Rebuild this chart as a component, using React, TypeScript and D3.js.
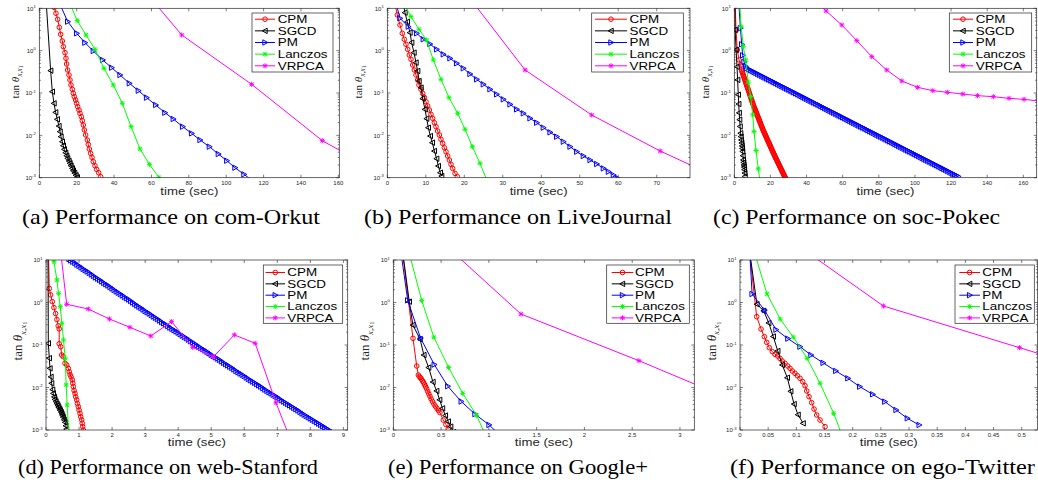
import React from 'react';
import * as d3 from 'd3';

// Every point: [time (sec), log10(tan θ)]
type Pt = [number, number];

const seriesNames = ['CPM', 'SGCD', 'PM', 'Lanczos', 'VRPCA'];
const yTickExps = [-3, -2, -1, 0, 1];

const ticksOrkut = [0, 20, 40, 60, 80, 100, 120, 140, 160];
const ticksLiveJournal = [0, 10, 20, 30, 40, 50, 60, 70];
const ticksPokec = [0, 20, 40, 60, 80, 100, 120, 140, 160];
const ticksStanford = [0, 1, 2, 3, 4, 5, 6, 7, 8, 9];
const ticksGoogle = [0, 0.5, 1, 1.5, 2, 2.5, 3];
const ticksTwitter = [0, 0.05, 0.1, 0.15, 0.2, 0.25, 0.3, 0.35, 0.4, 0.45, 0.5];

// (a) com-Orkut
const orkutCPM: Pt[] = [[8.0,1.02],[8.92,0.882],[9.81,0.74],[10.7,0.551],[11.42,0.386],[12.31,0.228],[12.84,0.094],[13.74,-0.047],[14.27,-0.181],[14.63,-0.315],[15.16,-0.457],[15.88,-0.575],[16.41,-0.693],[16.95,-0.811],[17.66,-0.913],[18.19,-1.008],[18.73,-1.087],[19.44,-1.165],[19.98,-1.244],[20.51,-1.323],[21.23,-1.402],[21.76,-1.48],[22.48,-1.559],[23.01,-1.654],[23.55,-1.756],[24.08,-1.874],[24.8,-1.992],[25.69,-2.11],[26.22,-2.213],[26.76,-2.323],[27.47,-2.425],[28.18,-2.52],[28.9,-2.622],[29.79,-2.717],[30.68,-2.803],[31.75,-2.882],[32.82,-2.976]];
const orkutSGCD: Pt[] = [[3.5,1.27],[6.07,-0.472],[6.96,-0.969],[7.85,-1.244],[8.74,-1.457],[9.63,-1.622],[10.5,-1.78],[11.1,-1.913],[11.59,-2.031],[12.31,-2.15],[12.84,-2.244],[13.38,-2.331],[14.09,-2.409],[14.63,-2.48],[15.16,-2.543],[15.88,-2.606],[16.41,-2.661],[16.95,-2.717],[17.66,-2.78],[18.19,-2.835],[18.91,-2.89],[19.62,-2.945],[20.34,-2.992]];
const orkutPM: Pt[] = [[10.4,1.16],[15.2,0.685],[20.0,0.409],[24.4,0.189],[28.9,-0.008],[33.9,-0.22],[38.7,-0.402],[43.2,-0.575],[48.2,-0.772],[53.0,-0.945],[57.4,-1.11],[62.3,-1.283],[67.2,-1.465],[71.7,-1.614],[76.7,-1.795],[81.5,-1.953],[86.0,-2.11],[91.0,-2.268],[95.8,-2.441],[100.3,-2.598],[104.7,-2.764],[109.5,-2.921],[114.3,-3.08]];
const orkutLanczos: Pt[] = [[15.5,1.2],[20.3,0.709],[25.0,0.37],[29.8,0.031],[34.6,-0.417],[39.6,-0.811],[44.4,-1.244],[49.1,-1.795],[53.9,-2.323],[58.9,-2.685],[64.0,-2.992]];
const orkutVRPCA: Pt[] = [[38.6,2.34],[76.2,0.37],[113.6,-0.795],[151.4,-2.126],[189,-3.05]];

// (b) LiveJournal
const ljCPM: Pt[] = [[2.0,1.1],[2.6,0.843],[3.29,0.606],[3.9,0.409],[4.42,0.268],[4.85,0.15],[5.29,0.031],[5.72,-0.102],[6.15,-0.205],[6.59,-0.339],[7.02,-0.457],[7.45,-0.575],[7.89,-0.693],[8.23,-0.811],[8.75,-0.913],[9.19,-1.008],[9.62,-1.102],[10.05,-1.205],[10.49,-1.307],[10.92,-1.402],[11.35,-1.504],[11.79,-1.598],[12.22,-1.701],[12.65,-1.795],[13.08,-1.898],[13.52,-1.992],[13.95,-2.094],[14.38,-2.189],[14.82,-2.291],[15.25,-2.386],[15.68,-2.488],[16.12,-2.583],[16.55,-2.685],[16.98,-2.78],[17.59,-2.898],[18.2,-2.976]];
const ljSGCD: Pt[] = [[3.8,1.3],[4.59,0.898],[5.2,0.68],[5.89,0.425],[6.33,0.189],[6.93,-0.047],[7.45,-0.283],[7.89,-0.48],[8.23,-0.717],[8.75,-0.874],[9.19,-1.134],[9.79,-1.386],[10.23,-1.606],[10.66,-1.819],[11.18,-2.016],[11.7,-2.173],[12.22,-2.37],[12.82,-2.551],[13.26,-2.724],[13.78,-2.882],[14.12,-2.961]];
const ljPM: Pt[] = [[1.5,1.4],[3.29,0.764],[5.46,0.567],[7.63,0.409],[9.36,0.268],[11.09,0.157],[12.82,0.031],[14.56,-0.087],[16.29,-0.181],[18.02,-0.299],[19.76,-0.417],[21.49,-0.551],[23.22,-0.677],[24.96,-0.795],[26.69,-0.913],[28.42,-1.031],[30.16,-1.15],[31.89,-1.268],[33.62,-1.386],[35.36,-1.48],[37.09,-1.598],[38.82,-1.701],[40.55,-1.819],[42.29,-1.929],[44.02,-2.031],[45.75,-2.15],[47.49,-2.268],[49.22,-2.386],[50.95,-2.488],[52.69,-2.583],[54.42,-2.677],[56.15,-2.78],[57.45,-2.858],[58.75,-2.937],[60.0,-3.02]];
const ljLanczos: Pt[] = [[4.1,1.15],[6.15,0.803],[8.23,0.504],[10.2,0.252],[11.96,-0.22],[13.95,-0.677],[16.03,-1.11],[18.28,-1.48],[20.19,-1.858],[22.1,-2.268],[24.09,-2.661],[26.0,-3.09]];
const ljVRPCA: Pt[] = [[18.2,1.62],[35.8,-0.457],[53.1,-1.52],[70.9,-2.37],[88.5,-3.11]];

// (c) soc-Pokec
const pokecCPM: Pt[] = [[0.4,1.3],[0.94,0.488],[1.66,0.017],[2.6,-0.219],[3.55,-0.337],
  [4.0,-0.455],[4.25,-0.487],[4.5,-0.518],[4.75,-0.55],[5.0,-0.581],[5.25,-0.613],[5.5,-0.644],[5.75,-0.676],[6.0,-0.708],[6.25,-0.739],[6.5,-0.771],[6.75,-0.803],[7.0,-0.835],[7.25,-0.867],[7.5,-0.899],[7.75,-0.93],[8.0,-0.962],[8.25,-0.994],[8.5,-1.026],[8.75,-1.058],[9.0,-1.09],[9.25,-1.122],[9.5,-1.154],[9.75,-1.185],[10.0,-1.217],[10.25,-1.249],[10.5,-1.281],[10.75,-1.308],[11.0,-1.336],[11.25,-1.363],[11.5,-1.39],[11.75,-1.417],[12.0,-1.445],[12.25,-1.472],[12.5,-1.499],[12.75,-1.527],[13.0,-1.554],[13.25,-1.581],[13.5,-1.608],[13.75,-1.636],[14.0,-1.663],[14.25,-1.69],[14.5,-1.717],[14.75,-1.745],[15.0,-1.772],[15.25,-1.799],[15.5,-1.826],[15.75,-1.854],[16.0,-1.88],[16.25,-1.903],[16.5,-1.927],[16.75,-1.951],[17.0,-1.975],[17.25,-1.999],[17.5,-2.022],[17.75,-2.046],[18.0,-2.07],[18.25,-2.094],[18.5,-2.118],[18.75,-2.141],[19.0,-2.165],[19.25,-2.189],[19.5,-2.213],[19.75,-2.237],[20.0,-2.26],[20.25,-2.284],[20.5,-2.308],[20.75,-2.332],[21.0,-2.355],[21.25,-2.379],[21.5,-2.403],[21.75,-2.427],[22.0,-2.45],[22.25,-2.473],[22.5,-2.495],[22.75,-2.518],[23.0,-2.54],[23.25,-2.562],[23.5,-2.584],[23.75,-2.606],[24.0,-2.628],[24.25,-2.65],[24.5,-2.672],[24.75,-2.695],[25.0,-2.717],[25.25,-2.739],[25.5,-2.761],[25.75,-2.783],[26.0,-2.805],[26.25,-2.827],[26.5,-2.85],[26.75,-2.872],[27.0,-2.894],[27.25,-2.916],[27.5,-2.938],[27.75,-2.96],[28.0,-2.982],[28.25,-3.004],[28.5,-3.027]];
const pokecSGCD: Pt[] = [[0.2,1.3],[0.45,0.49],[1.0,0.02],[1.5,-0.38],[1.85,-0.69],[2.2,-1.04],[2.45,-1.26],[2.7,-1.47],[2.95,-1.63],[3.2,-1.79],[3.5,-1.95],[3.7,-2.03],[3.9,-2.11],[4.1,-2.18],[4.3,-2.25],[4.45,-2.31],[4.6,-2.38],[4.8,-2.48],[5.0,-2.58],[5.15,-2.64],[5.3,-2.7],[5.45,-2.75],[5.6,-2.81],[5.8,-2.89],[5.95,-2.97]];
const pokecPM: Pt[] = [[2.2,1.3],[3.4,0.53],[4.1,0.15],[4.65,-0.11],[5.4,-0.27],[6.3,-0.37],
  [7,-0.419],[8,-0.441],[9,-0.463],[10,-0.485],[11,-0.507],[12,-0.528],[13,-0.55],[14,-0.572],[15,-0.594],[16,-0.616],[17,-0.637],[18,-0.659],[19,-0.681],[20,-0.703],[21,-0.725],[22,-0.746],[23,-0.768],[24,-0.79],[25,-0.812],[26,-0.834],[27,-0.855],[28,-0.877],[29,-0.899],[30,-0.921],[31,-0.943],[32,-0.964],[33,-0.986],[34,-1.008],[35,-1.03],[36,-1.052],[37,-1.073],[38,-1.095],[39,-1.117],[40,-1.139],[41,-1.161],[42,-1.182],[43,-1.204],[44,-1.226],[45,-1.248],[46,-1.27],[47,-1.291],[48,-1.313],[49,-1.335],[50,-1.357],[51,-1.379],[52,-1.4],[53,-1.422],[54,-1.444],[55,-1.466],[56,-1.488],[57,-1.509],[58,-1.531],[59,-1.553],[60,-1.575],[61,-1.597],[62,-1.618],[63,-1.64],[64,-1.662],[65,-1.684],[66,-1.706],[67,-1.727],[68,-1.749],[69,-1.771],[70,-1.793],[71,-1.815],[72,-1.836],[73,-1.858],[74,-1.88],[75,-1.902],[76,-1.924],[77,-1.945],[78,-1.967],[79,-1.989],[80,-2.011],[81,-2.033],[82,-2.054],[83,-2.076],[84,-2.098],[85,-2.12],[86,-2.142],[87,-2.163],[88,-2.185],[89,-2.207],[90,-2.229],[91,-2.251],[92,-2.272],[93,-2.294],[94,-2.316],[95,-2.338],[96,-2.36],[97,-2.381],[98,-2.403],[99,-2.425],[100,-2.447],[101,-2.469],[102,-2.49],[103,-2.512],[104,-2.534],[105,-2.556],[106,-2.578],[107,-2.599],[108,-2.621],[109,-2.643],[110,-2.665],[111,-2.687],[112,-2.708],[113,-2.73],[114,-2.752],[115,-2.774],[116,-2.796],[117,-2.817],[118,-2.839],[119,-2.861],[120,-2.883],[121,-2.905],[122,-2.926],[123,-2.948],[124,-2.97]];
const pokecLanczos: Pt[] = [[2.3,1.56],[3.8,0.566],[4.98,0.094],[6.31,-0.219],[7.75,-0.745],[9.08,-1.085],[10.19,-1.517],[10.91,-1.91],[12.02,-2.358],[13.29,-2.79],[14.6,-3.2]];
const pokecVRPCA: Pt[] = [[42.3,1.3],[50.8,0.937],[59.5,0.606],[67.8,0.236],[76.1,-0.142],[84.4,-0.457],[92.7,-0.717],[101.5,-0.866],[109.9,-0.945],[117.9,-0.984],[126.5,-1.024],[134.6,-1.063],[143.4,-1.087],[152.1,-1.126],[160.4,-1.15],[168.8,-1.19]];

// (d) web-Stanford
const stanfordCPM: Pt[] = [[0.07,1.3],[0.1,0.33],[0.14,0.18],[0.19,0.02],[0.24,-0.12],[0.29,-0.26],[0.33,-0.4],[0.37,-0.55],[0.4,-0.62],[0.4,-0.97],[0.445,-1.04],[0.475,-1.235],[0.52,-1.275],[0.575,-1.43],[0.627,-1.47],[0.675,-1.55],[0.705,-1.63],[0.73,-1.7],[0.757,-1.75],[0.796,-1.82],[0.81,-1.9],[0.827,-1.98],[0.85,-2.07],[0.878,-2.14],[0.9,-2.22],[0.929,-2.29],[0.95,-2.38],[0.978,-2.45],[1.0,-2.53],[1.03,-2.61],[1.05,-2.69],[1.08,-2.76],[1.095,-2.84],[1.11,-2.92],[1.13,-3.0]];
const stanfordSGCD: Pt[] = [[0.06,1.4],[0.07,-0.96],[0.1,-1.31],[0.12,-1.55],[0.15,-1.75],[0.17,-1.9],[0.2,-2.05],[0.22,-2.14],[0.25,-2.22],[0.27,-2.28],[0.3,-2.33],[0.33,-2.38],[0.36,-2.42],[0.38,-2.46],[0.41,-2.5],[0.43,-2.54],[0.46,-2.58],[0.48,-2.62],[0.5,-2.66],[0.52,-2.7],[0.55,-2.76],[0.58,-2.82],[0.6,-2.9],[0.62,-2.98]];
const stanfordPM: Pt[] = [[0.7,1.02],[0.75,0.99],[0.8125,0.96],[0.875,0.93],[0.9375,0.89],[1.0,0.86],[1.0625,0.825],[1.125,0.79],[1.1875,0.76],[1.25,0.73],[1.3125,0.695],[1.375,0.66],[1.4375,0.625],[1.5,0.59],[1.5625,0.56],[1.625,0.53],[1.6875,0.495],[1.75,0.46],[1.8125,0.43],[1.875,0.4],[1.9375,0.365],[2.0,0.33],[2.0625,0.295],[2.125,0.26],[2.1875,0.23],[2.25,0.2],[2.3125,0.165],[2.375,0.13],[2.4375,0.1],[2.5,0.07],[2.5625,0.035],[2.625,0.0],[2.6875,-0.035],[2.75,-0.07],[2.8125,-0.1],[2.875,-0.13],[2.9375,-0.165],[3.0,-0.2],[3.0625,-0.23],[3.125,-0.26],[3.1875,-0.295],[3.25,-0.33],[3.3125,-0.36],[3.375,-0.39],[3.4375,-0.425],[3.5,-0.46],[3.5625,-0.49],[3.625,-0.52],[3.6875,-0.555],[3.75,-0.59],[3.8125,-0.62],[3.875,-0.65],[3.9375,-0.68],[4.0,-0.71],[4.0625,-0.745],[4.125,-0.78],[4.1875,-0.81],[4.25,-0.84],[4.3125,-0.875],[4.375,-0.91],[4.4375,-0.94],[4.5,-0.97],[4.5625,-1.005],[4.625,-1.04],[4.6875,-1.07],[4.75,-1.1],[4.8125,-1.13],[4.875,-1.16],[4.9375,-1.195],[5.0,-1.23],[5.0625,-1.26],[5.125,-1.29],[5.1875,-1.32],[5.25,-1.35],[5.3125,-1.385],[5.375,-1.42],[5.4375,-1.45],[5.5,-1.48],[5.5625,-1.51],[5.625,-1.54],[5.6875,-1.575],[5.75,-1.61],[5.8125,-1.64],[5.875,-1.67],[5.9375,-1.7],[6.0,-1.73],[6.0625,-1.765],[6.125,-1.8],[6.1875,-1.83],[6.25,-1.86],[6.3125,-1.89],[6.375,-1.92],[6.4375,-1.95],[6.5,-1.98],[6.5625,-2.015],[6.625,-2.05],[6.6875,-2.08],[6.75,-2.11],[6.8125,-2.14],[6.875,-2.17],[6.9375,-2.2],[7.0,-2.23],[7.0625,-2.265],[7.125,-2.3],[7.1875,-2.33],[7.25,-2.36],[7.3125,-2.39],[7.375,-2.42],[7.4375,-2.45],[7.5,-2.48],[7.5625,-2.51],[7.625,-2.54],[7.6875,-2.575],[7.75,-2.61],[7.8125,-2.64],[7.875,-2.67],[7.9375,-2.7],[8.0,-2.73],[8.0625,-2.76],[8.125,-2.79],[8.1875,-2.82],[8.25,-2.85],[8.3125,-2.88],[8.375,-2.91],[8.4375,-2.94],[8.5,-2.97],[8.5625,-3.0],[8.625,-3.03]];
const stanfordLanczos: Pt[] = [[0.18,1.5],[0.24,0.96],[0.33,0.53],[0.38,0.216],[0.43,-0.098],[0.48,-0.49],[0.53,-0.882],[0.58,-1.313],[0.61,-1.94],[0.64,-2.41],[0.69,-3.1]];
const stanfordVRPCA: Pt[] = [[0.4,1.5],[0.626,-0.042],[1.28,-0.153],[1.92,-0.388],[2.54,-0.584],[3.17,-0.788],[3.8,-0.451],[4.44,-1.055],[5.07,-1.274],[5.7,-0.762],[6.33,-0.96],[6.96,-2.36],[7.59,-3.6]];

// (e) Google+
const googleCPM: Pt[] = [[0.09,1.3],[0.206,-0.843],[0.245,-1.494],[0.262,-1.706],[0.272,-1.74],[0.283,-1.77],[0.294,-1.8],[0.305,-1.84],[0.316,-1.88],[0.327,-1.93],[0.338,-1.98],[0.349,-2.03],[0.36,-2.09],[0.372,-2.15],[0.384,-2.21],[0.396,-2.27],[0.41,-2.33],[0.425,-2.39],[0.44,-2.44],[0.457,-2.49],[0.472,-2.54],[0.488,-2.59],[0.523,-2.765],[0.55,-2.87],[0.575,-2.976]];
const googleSGCD: Pt[] = [[0.08,1.5],[0.167,0.02],[0.205,-0.53],[0.28,-0.86],[0.32,-1.235],[0.37,-1.53],[0.415,-1.87],[0.454,-2.08],[0.485,-2.29],[0.515,-2.49],[0.545,-2.66],[0.575,-2.8],[0.6,-2.92],[0.63,-3.05]];
const googlePM: Pt[] = [[0.06,1.5],[0.151,0.05],[0.285,-0.835],[0.429,-1.46],[0.57,-1.97],[0.711,-2.33],[0.855,-2.625],[1.002,-2.88],[1.13,-3.15]];
const googleLanczos: Pt[] = [[0.15,1.3],[0.297,0.05],[0.424,-0.816],[0.579,-1.53],[0.726,-2.137],[0.872,-2.657],[0.98,-3.2]];
const googleVRPCA: Pt[] = [[0.1,2.26],[1.336,-0.271],[2.57,-1.369],[3.81,-2.54]];

// (f) ego-Twitter
const twitterCPM: Pt[] = [[0.016,1.3],[0.0296,-0.333],[0.0373,-0.624],[0.0432,-0.804],[0.0474,-0.937],[0.052,-1.063],[0.0574,-1.157],[0.0621,-1.22],[0.0669,-1.259],[0.071,-1.314],[0.075,-1.377],[0.0799,-1.431],[0.0847,-1.494],[0.0888,-1.549],[0.0929,-1.612],[0.0976,-1.667],[0.1018,-1.722],[0.1065,-1.784],[0.1113,-1.863],[0.1154,-1.957],[0.1184,-2.082],[0.1225,-2.216],[0.1272,-2.357],[0.1314,-2.506],[0.1361,-2.647],[0.142,-2.765],[0.151,-2.922]];
const twitterSGCD: Pt[] = [[0.015,1.4],[0.03,-0.04],[0.042,-0.196],[0.051,-0.48],[0.059,-0.8],[0.067,-1.14],[0.075,-1.47],[0.084,-1.77],[0.09,-2.09],[0.096,-2.39],[0.103,-2.64],[0.112,-2.843]];
const twitterPM: Pt[] = [[0.0165,1.35],[0.0215,0.2],[0.0435,-0.18],[0.0639,-0.64],[0.085,-0.85],[0.1065,-1.04],[0.126,-1.235],[0.1475,-1.42],[0.17,-1.61],[0.1915,-1.784],[0.2125,-1.98],[0.2355,-2.16],[0.257,-2.333],[0.277,-2.529],[0.297,-2.725],[0.318,-2.882]];
const twitterLanczos: Pt[] = [[0.024,1.25],[0.048,0.2],[0.0715,-0.392],[0.0947,-0.816],[0.119,-1.314],[0.142,-1.9],[0.1663,-2.609],[0.186,-3.3]];
const twitterVRPCA: Pt[] = [[0.013,2.18],[0.2545,-0.082],[0.496,-1.063],[0.737,-2.04]];

const styles = [
  { color: '#ff0000', marker: 'o' },
  { color: '#000000', marker: '<' },
  { color: '#0000ff', marker: '>' },
  { color: '#00ff00', marker: '*' },
  { color: '#ff00ff', marker: '*' },
];

const TOP = { top: 8.3, bottom: 177.7, tickY: 184.5, labY: 194.8, legY0: 13, legY1: 72, row0: 19.2, rowDy: 11.65, capY: 224, ylabY: 82, ylabFs: 11 };
const BOT = { top: 260, bottom: 430, tickY: 436.8, labY: 445.8, legY0: 265, legY1: 323.3, row0: 272.5, rowDy: 11.35, capY: 474, ylabY: 341, ylabFs: 13 };

const panels = [
  { id: 'a', row: TOP, caption: '(a) Performance on com-Orkut', capX: 22, capW: 298, left: 39.3, right: 339.3, xMax: 160.5, ticks: ticksOrkut, ylabX: 18.5,
    data: [orkutCPM, orkutSGCD, orkutPM, orkutLanczos, orkutVRPCA], leg: { x0: 252, x1: 333, l0: 255, l1: 275, tx: 277.7 } },
  { id: 'b', row: TOP, caption: '(b) Performance on LiveJournal', capX: 364, capW: 308, left: 387.3, right: 690, xMax: 78.64, ticks: ticksLiveJournal, ylabX: 361.5,
    data: [ljCPM, ljSGCD, ljPM, ljLanczos, ljVRPCA], leg: { x0: 591.7, x1: 683.3, l0: 595, l1: 627, tx: 629.5 } },
  { id: 'c', row: TOP, caption: '(c) Performance on soc-Pokec', capX: 713, capW: 287, left: 734.3, right: 1036.7, xMax: 167.4, ticks: ticksPokec, ylabX: 708.5,
    data: [pokecCPM, pokecSGCD, pokecPM, pokecLanczos, pokecVRPCA], leg: { x0: 949.3, x1: 1031.7, l0: 953, l1: 973, tx: 975.7 } },
  { id: 'd', row: BOT, caption: '(d) Performance on web-Stanford', capX: 18, capW: 300, left: 46, right: 347.7, xMax: 9.13, ticks: ticksStanford, ylabX: 22,
    data: [stanfordCPM, stanfordSGCD, stanfordPM, stanfordLanczos, stanfordVRPCA], leg: { x0: 263.3, x1: 342.7, l0: 265.5, l1: 285, tx: 287.3 } },
  { id: 'e', row: BOT, caption: '(e) Performance on Google+', capX: 388, capW: 260, left: 393.3, right: 694.3, xMax: 3.15, ticks: ticksGoogle, ylabX: 369,
    data: [googleCPM, googleSGCD, googlePM, googleLanczos, googleVRPCA], leg: { x0: 606.7, x1: 689.3, l0: 611.7, l1: 633.3, tx: 635 } },
  { id: 'f', row: BOT, caption: '(f) Performance on ego-Twitter', capX: 730, capW: 305, left: 740, right: 1037.5, xMax: 0.528, ticks: ticksTwitter, ylabX: 715.5,
    data: [twitterCPM, twitterSGCD, twitterPM, twitterLanczos, twitterVRPCA], leg: { x0: 955, x1: 1034.3, l0: 959.3, l1: 980, tx: 982.3 } },
];

function markerD(kind: string, x: number, y: number): string {
  const r = 2.5;
  if (kind === 'o') {
    const c = 2.3;
    return `M${x - c},${y}a${c},${c} 0 1,0 ${2 * c},0a${c},${c} 0 1,0 ${-2 * c},0Z`;
  }
  if (kind === '<') return `M${x - 2.8},${y}L${x + 2.2},${y - 2.7}L${x + 2.2},${y + 2.7}Z`;
  if (kind === '>') return `M${x + 2.8},${y}L${x - 2.2},${y - 2.7}L${x - 2.2},${y + 2.7}Z`;
  const d = 1.9;
  return `M${x - r},${y}H${x + r}M${x},${y - r}V${y + r}M${x - d},${y - d}L${x + d},${y + d}M${x - d},${y + d}L${x + d},${y - d}`;
}

const AX = '#262626';
const SANS = '"Liberation Sans", Arial, Helvetica, sans-serif';
const SERIF = '"Liberation Serif", "Times New Roman", serif';

function Panel({ p }: { p: typeof panels[number] }) {
  const r = p.row;
  const x = d3.scaleLinear().domain([0, p.xMax]).range([p.left, p.right]);
  const y = d3.scaleLog().domain([1e-3, 1e1]).range([r.bottom, r.top]);
  const line = d3.line<Pt>().x(d => x(d[0])).y(d => y(Math.pow(10, d[1])));
  const tl = 3;
  const minor: number[] = [];
  for (let e = -3; e < 1; e++) for (let k = 2; k <= 9; k++) minor.push(k * Math.pow(10, e));
  const clipId = `clip-${p.id}`;
  const cx = (p.left + p.right) / 2;
  const fs = r.ylabFs;
  return (
    <g>
      <defs>
        <clipPath id={clipId}>
          <rect x={p.left} y={r.top} width={p.right - p.left} height={r.bottom - r.top} />
        </clipPath>
      </defs>
      <rect x={p.left} y={r.top} width={p.right - p.left} height={r.bottom - r.top} fill="#fff" />
      <g clipPath={`url(#${clipId})`}>
        {p.data.map((ser, i) => (
          <g key={i}>
            <path d={line(ser) || ''} fill="none" stroke={styles[i].color} strokeWidth={1} />
            <path d={ser.map(d => markerD(styles[i].marker, x(d[0]), y(Math.pow(10, d[1])))).join('')}
              fill="none" stroke={styles[i].color} strokeWidth={1} />
          </g>
        ))}
      </g>
      <g stroke={AX} strokeWidth={0.6}>
        {p.ticks.map(t => (
          <g key={t}>
            <line x1={x(t)} x2={x(t)} y1={r.bottom} y2={r.bottom - tl} />
            <line x1={x(t)} x2={x(t)} y1={r.top} y2={r.top + tl} />
          </g>
        ))}
        {yTickExps.map(e => (
          <g key={e}>
            <line x1={p.left} x2={p.left + tl} y1={y(Math.pow(10, e))} y2={y(Math.pow(10, e))} />
            <line x1={p.right} x2={p.right - tl} y1={y(Math.pow(10, e))} y2={y(Math.pow(10, e))} />
          </g>
        ))}
        {minor.map(m => (
          <g key={m}>
            <line x1={p.left} x2={p.left + 1.6} y1={y(m)} y2={y(m)} />
            <line x1={p.right} x2={p.right - 1.6} y1={y(m)} y2={y(m)} />
          </g>
        ))}
      </g>
      <rect x={p.left} y={r.top} width={p.right - p.left} height={r.bottom - r.top} fill="none" stroke={AX} strokeWidth={0.7} />
      <g fontFamily={SANS} fill={AX}>
        {p.ticks.map(t => (
          <text key={t} x={x(t)} y={r.tickY} fontSize={6} textAnchor="middle">{String(t)}</text>
        ))}
        {yTickExps.map(e => (
          <text key={e} x={p.left - 3.5} y={y(Math.pow(10, e)) + 2.2} fontSize={6} textAnchor="end">
            <tspan>10</tspan><tspan fontSize={4.2} dy={-2.6}>{String(e)}</tspan>
          </text>
        ))}
      </g>
      <text x={cx} y={r.labY} fontFamily={SANS} fontSize={10.5} textAnchor="middle" fill={AX}
        textLength={58} lengthAdjust="spacingAndGlyphs">time (sec)</text>
      <text transform={`translate(${p.ylabX},${r.ylabY}) rotate(-90)`} fontFamily={SERIF} fontSize={fs} textAnchor="middle" fill={AX}>
        <tspan>tan </tspan><tspan fontStyle="italic">θ</tspan>
        <tspan fontStyle="italic" fontSize={fs * 0.68} dy={fs * 0.28}>x,x</tspan>
        <tspan fontSize={fs * 0.5} dy={fs * 0.12}>1</tspan>
      </text>
      <rect x={p.leg.x0} y={r.legY0} width={p.leg.x1 - p.leg.x0} height={r.legY1 - r.legY0} fill="#fff" stroke={AX} strokeWidth={0.7} />
      {seriesNames.map((n, i) => {
        const yy = r.row0 + i * r.rowDy;
        const mx = (p.leg.l0 + p.leg.l1) / 2;
        return (
          <g key={n}>
            <line x1={p.leg.l0} x2={p.leg.l1} y1={yy} y2={yy} stroke={styles[i].color} strokeWidth={1} />
            <path d={markerD(styles[i].marker, mx, yy)} fill="none" stroke={styles[i].color} strokeWidth={1} />
            <text transform={`translate(${p.leg.tx},${yy + 3.7}) scale(1.34,1)`} fontFamily={SANS} fontSize={10} fill="#000">{n}</text>
          </g>
        );
      })}
      <text x={p.capX} y={r.capY} fontFamily={SERIF} fontSize={21} fill="#000" textLength={p.capW} lengthAdjust="spacingAndGlyphs">{p.caption}</text>
    </g>
  );
}

export default function App() {
  return (
    <div style={{ position: 'absolute', left: 0, top: 0, width: 1038, height: 483, background: '#fff' }}>
      <svg width={1038} height={483} viewBox="0 0 1038 483" style={{ display: 'block' }}>
        <rect width={1038} height={483} fill="#fff" />
        {panels.map(p => <Panel key={p.id} p={p} />)}
      </svg>
    </div>
  );
}
